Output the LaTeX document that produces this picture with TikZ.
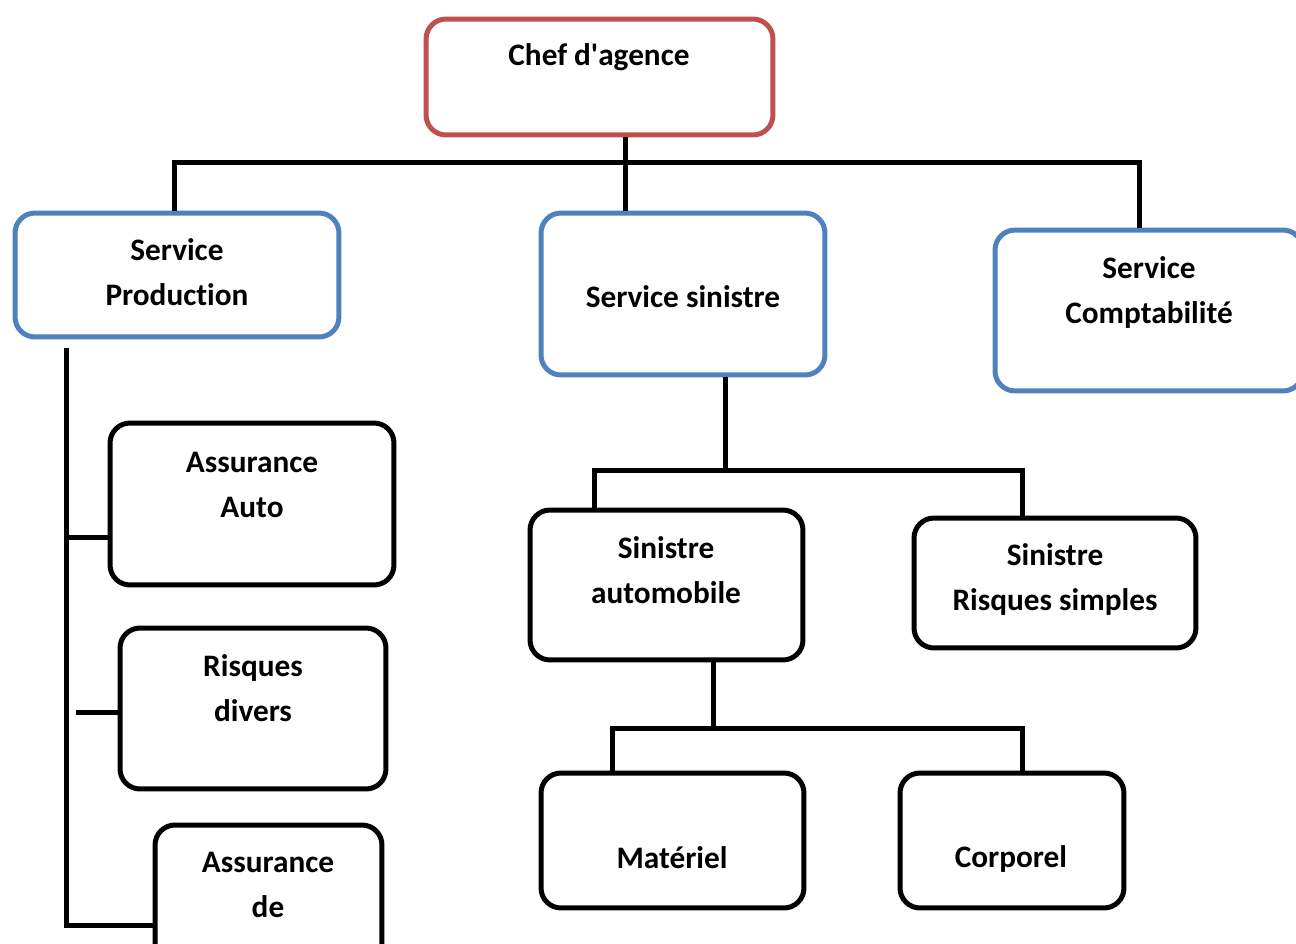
\documentclass[tikz,border=0pt]{standalone}
\usepackage{fontspec}
\setmainfont[Ligatures=NoCommon]{Carlito}
\definecolor{chefred}{HTML}{C0504D}
\definecolor{srvblue}{HTML}{4F81BD}

\begin{document}
\begin{tikzpicture}[x=0.02cm,y=-0.02cm]
\tikzstyle{box}=[draw,shape=rectangle,rounded corners=0.4cm,line width=0.1cm];
\tikzstyle{txt}=[align=center,font=\fontsize{17.8}{25.6}\selectfont\bfseries];
\tikzstyle{link}=[line width=0.1cm];
\useasboundingbox (0,0) rectangle (1296,944);
% boxes
\node[box,draw=chefred,minimum width=6.94cm,minimum height=2.32cm] (chef) at (599.5,77) {};
\node[box,draw=srvblue,minimum width=6.48cm,minimum height=2.48cm] (prod) at (177,275) {};
\node[box,draw=srvblue,minimum width=5.68cm,minimum height=3.24cm] (sin) at (683,294) {};
\node[box,draw=srvblue,minimum width=6.16cm,minimum height=3.22cm] (compta) at (1149,310.5) {};
\node[box,minimum width=5.68cm,minimum height=3.24cm] (auto) at (252,504) {};
\node[box,minimum width=5.32cm,minimum height=3.22cm] (divers) at (253,708.5) {};
\node[box,minimum width=4.54cm,minimum height=3.2cm] (assde) at (268.5,905) {};
\node[box,minimum width=5.46cm,minimum height=3cm] (sauto) at (666.5,585) {};
\node[box,minimum width=5.64cm,minimum height=2.6cm] (srs) at (1055,583) {};
\node[box,minimum width=5.26cm,minimum height=2.7cm] (mat) at (672.5,840.5) {};
\node[box,minimum width=4.48cm,minimum height=2.7cm] (corp) at (1012,840.5) {};
% texts
\node[txt] (chef-t) at (599,57) {Chef d\textquotesingle agence};
\node[txt] (prod-t) at (177,272) {Service\\Production};
\node[txt] (sin-t) at (683,297) {Service sinistre};
\node[txt] (compta-t) at (1149,292.5) {Service\\Comptabilité};
\node[txt] (auto-t) at (252,485) {Assurance\\Auto};
\node[txt] (divers-t) at (253,688) {Risques\\divers};
\node[txt] (assde-t) at (268,885) {Assurance\\de};
\node[txt] (sauto-t) at (666,570) {Sinistre\\automobile};
\node[txt] (srs-t) at (1055,579) {Sinistre\\Risques simples};
\node[txt] (mat-t) at (672,858) {Matériel};
\node[txt] (corp-t) at (1011,859) {Corporel};
% top level
\coordinate (top) at (625,162);
\coordinate (top-l) at (174,162);
\coordinate (top-r) at (1139,162);
\draw[link] (chef.south -| top) -- (sin.north -| top);
\draw[link] (prod.north -| top-l) -- (top-l) -- (top-r) -- (compta.north -| top-r);
% production
\coordinate (left) at (66,348);
\coordinate (left-a) at (66,537);
\coordinate (left-d) at (76,712);
\coordinate (left-e) at (66,925);
\draw[link] (left) -- (left-e) -- (assde.west |- left-e);
\draw[link] (left-a) -- (auto.west |- left-a);
\draw[link] (left-d) -- (divers.west |- left-d);
% sinistre
\coordinate (mid) at (725,470);
\coordinate (mid-l) at (594,470);
\coordinate (mid-r) at (1022,470);
\draw[link] (sin.south -| mid) -- (mid);
\draw[link] (sauto.north -| mid-l) -- (mid-l) -- (mid-r) -- (srs.north -| mid-r);
\coordinate (low) at (713,728);
\coordinate (low-l) at (612,728);
\coordinate (low-r) at (1022,728);
\draw[link] (sauto.south -| low) -- (low);
\draw[link] (mat.north -| low-l) -- (low-l) -- (low-r) -- (corp.north -| low-r);
\end{tikzpicture}
\end{document}
